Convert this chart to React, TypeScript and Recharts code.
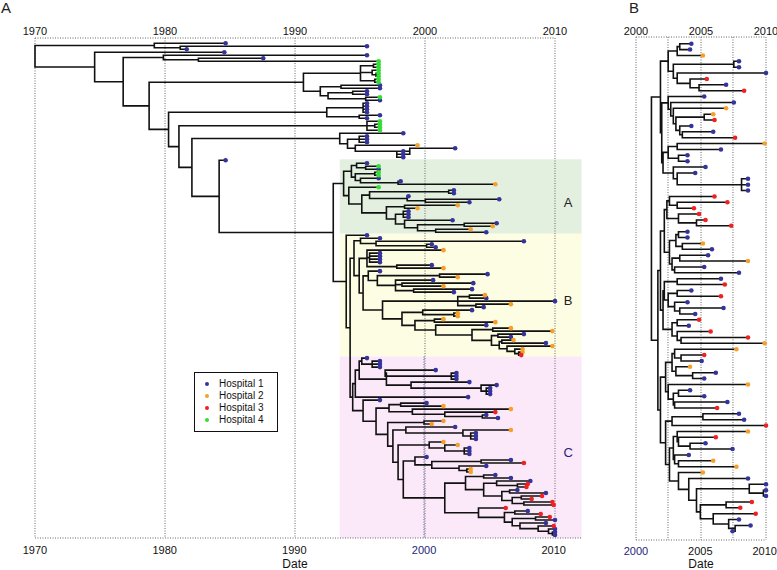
import React from 'react';
import {
  ComposedChart,
  Line,
  Scatter,
  XAxis,
  YAxis,
  ReferenceLine,
  ReferenceArea,
  Label,
} from 'recharts';

const HOSPITALS = ['Hospital 1', 'Hospital 2', 'Hospital 3', 'Hospital 4'];
const HOSPITAL_COLORS = ['#34349a', '#f6a02c', '#ee2222', '#33dd33'];

const TICKS_A = [1970, 1980, 1990, 2000, 2010];
const TICKS_B = [2000, 2005, 2010];
const GRID_B = [2000, 2002.46, 2005, 2007.46, 2010];

// tree notation: tip = "hospital:year", node = "(child,child,...)year"

// panel A - basal part
const TOP_C1 = '(1:1984.7,(1:1995.6,1:1981.7)1981.2)1979.2';
const TOP_GREENS = '((4:1996.5,4:1996.5)1996.1,(4:1996.5,(4:1996.5,4:1996.5)1996.3)1996.0,(4:1996.5,4:1996.5)1996.2)1995.1';
const TOP_BLUES1 = '((1:1996.6,1:1996.6)1993.6,((1:1995.6,1:1995.6)1994.5,(4:1996.6,1:1996.6)1995.5)1992.6)1992.0';
const TOP_BLUES2 = '((1:1995.6,1:1995.6,1:1995.6,1:1995.6)1995.3,(1:1996.6,1:1995.6)1995.0)1992.5';
const TOP_GREENS2 = '(4:1996.6,(4:1996.6,4:1996.6)1996.2,4:1996.6)1995.6';
const TOP_H = '(1:1998.4,((1:1995.6,1:1995.6,1:1995.6)1995.0,(2:1999.5,(1:2002.4,(1:1998.4,1:1998.4,1:1998.4)1997.9)1998.9)1994.7)1994.1)1993.5';

// clade A
const A_TOP = '((1:1995.6,(4:1996.5,1:1996.5)1995.5)1994.8,((4:1996.5,4:1996.5)1996.2,(1:1996.5,(1:1998.2,2:2005.5)1998.0)1995.1)1994.7)1994.4';
const A_LOW = '(4:1996.5,(((1:2002.3,1:2002.3)2001.9,(1:1998.8,(1:2005.8,1:2003.5)2000.1)1998.7)1995.8,((2:2002.6,2:1999.5)1998.5,((1:1998.8,1:1998.8,1:1998.8)1998.4,(1:2002.2,((1:2005.6,2:2005.3)2003.1,(2:2003.6,1:2004.8)2000.9)1999.5)1998.5)1997.8)1997.1)1995.2)1994.2';
const CLADE_A = `(${A_TOP},${A_LOW})1993.8`;

// clade B
const B_TOP = '(1:1996.6,(1:2007.7,(1:2000.6,1:2000.9)2000.2)1996.3)1995.1';
const B_SUB1 = '(2:2001.5,(1:1996.6,1:1996.6,1:1996.6,1:1996.6)1995.8,(1:2000.6,2:2001.5)1997.9)1995.6';
const B_SUB2 = '(1:1996.6,((1:2004.9,2:2002.6)2001.2,(1:2000.7,(1:2003.8,2:2001.5)1998.3,(1:2003.7,1:2002.3)1999.2)1997.8)1996.4)1995.7';
const B_LOWER = '((2:2001.5,2:2005.5)2000.8,(1:2004.8,((2:2006.7,2:2009.9)2005.3,((1:2007.7,1:2006.7)2005.7,((2:2006.9,1:2009.4)2006.0,(2:2009.9,(2:2007.6,(2:2007.6,3:2007.5)2007.3)2007.0)2006.4)2005.8)2005.2)2003.7)2000.9)1999.3';
const B_SUB3 = `(((2:2004.7,1:2004.8)2003.5,1:2010.1,(2:2006.7,1:2004.6)2004.0)2002.6,((1:2003.7,(2:2002.6,2:2002.6)2002.3)1999.9,${B_LOWER})1998.3)1996.8`;
const CLADE_B_MAIN = `(${B_TOP},(${B_SUB1},(${B_SUB2},${B_SUB3})1995.3)1995.0)1994.6`;

// clade C
const C_TOP = '(((1:1995.6,(1:1996.6,1:1996.6,1:1996.6)1996.0)1995.2,((1:2000.9,(1:2002.5,1:2002.5,1:2002.5)2002.1)1997.0,(1:2003.5,(1:2005.6,(1:2005.1,1:2005.1,1:2005.1)2004.8)2004.4)1999.0)1997.1)1995.0,1:2003.4)1994.7';
const C_DEEP = '(((1:2005.5,1:2006.7)2004.6,((1:2008.2,(3:2008.0,3:2007.9)2007.2)2005.6,((1:2007.2,1:2009.4)2006.6,((3:2009.1,3:2008.3)2007.5,(3:2009.9,3:2010.0)2007.7)2006.8)2006.0)2004.6)2003.2,(3:2006.3,((1:2008.0,3:2009.0)2007.0,((3:2009.7,1:2010.1)2008.6,(1:2009.4,(3:2010.0,(1:2010.1,(1:2010.1,1:2010.1)2009.9)2009.6)2008.8)2007.4)2006.8)2006.2)2004.2)2001.6';
const C_LOW = `(1:1996.6,(((1:2000.2,2:2001.5)1998.2,(2:2006.7,(3:2005.5,(1:2004.8,1:2005.7)2004.5)2001.6)1999.1)1997.3,((2:2001.5,2:2000.6)2000.0,((1:2002.4,(2:2006.7,(1:2004.0,1:2004.0,1:2004.0)2003.6)2003.0)1998.6,((2:2001.5,(2:2002.6,(1:2003.5,1:2003.5,1:2003.5)2003.1)2001.6)2000.4,((1:2000.2,((1:2006.7,3:2007.7)2004.4,(1:2004.8,(2:2003.6,2:2003.6)2003.3)2002.7)2000.6)1999.3,${C_DEEP})1998.4)1998.0)1997.6)1997.2)1996.3)1995.3`;
const CLADE_C = `(${C_TOP},${C_LOW})1994.5`;

const TREE_A = `(${TOP_C1},(1:1984.6,((1:1995.6,(1:1987.6,4:1996.5)1982.6)1979.9,((${TOP_GREENS},${TOP_BLUES1})1990.7,(${TOP_BLUES2},(${TOP_GREENS2},(${TOP_H},(1:1984.7,(${CLADE_A},(1:1995.6,(${CLADE_B_MAIN},${CLADE_C})1994.3)1994.0)1993.0)1984.2)1982.1)1981.1)1980.3)1978.8)1976.8)1974.6)1970.0`;

// panel B
const PB1 = '(((1:2004.3,1:2004.2)2003.4,2:2005.2)2003.2,((1:2008.0,1:2008.0)2007.6,(1:2010.1,(3:2005.5,(1:2007.0,3:2008.4)2004.9)2004.2)2003.2)2002.9)2002.5';
const PB2 = '(1:2005.3,(1:2007.6,(2:2007.0,((2:2006.0,3:2006.1)2005.3,(1:2004.3,(1:2006.0,3:2007.7)2003.6)2003.4)2003.1)2002.9)2002.7)2002.5';
const PB3 = '(((2:2010.0,1:2006.6)2003.2,(1:2004.0,1:2004.0)2003.3)2002.5,(1:2005.4,(1:2004.6,(1:2008.7,1:2008.7,1:2008.7)2008.2)2003.2)2002.9)2002.1';
const PB4 = '(((3:2006.1,(3:2007.1,3:2004.5)2003.2)2002.6,(3:2004.9,(3:2005.4,3:2007.4)2004.7)2003.3)2002.4,(((1:2004.0,1:2004.0)2003.3,(2:2005.2,1:2005.9)2003.6)2003.1,((1:2005.6,2:2008.7)2003.4,(1:2005.3,1:2008.0)2003.0)2002.8)2002.6)2002.2';
const PB5 = '(((1:2006.6,3:2006.9)2003.2,((1:2004.3,3:2006.6)2003.2,(1:2004.0,(1:2006.8,1:2004.6)2003.4)2003.0)2002.5)2002.2,((3:2004.9,1:2004.1)2003.2,(3:2005.8,(3:2008.7,2:2010.0)2003.5)2003.2)2002.8)2002.1';
const PB6 = '(((2:2007.8,(3:2005.3,1:2005.1)2003.5)2003.0,(2:2004.2,(1:2006.2,1:2005.3)2004.4)2003.1)2002.8,(2:2008.7,((1:2004.2,1:2005.3)2003.3,(1:2007.1,3:2006.3)2003.0)2002.9)2002.5)2002.3';
const PB7 = '(((1:2008.0,1:2008.4)2005.2,3:2010.1)2002.8,(((2:2008.7,(3:2006.2,(1:2005.4,1:2007.5)2004.2)2003.3)2003.2,(1:2004.1,(2:2006.0,2:2007.8)2003.3)2003.0)2002.9,(2:2005.2,(1:2008.7,((1:2010.1,(1:2010.1,1:2010.1)2009.9)2008.8,((3:2009.0,3:2008.1)2007.0,(3:2009.3,(1:2008.0,(1:2008.9,1:2007.5)2007.7)2007.2)2006.0)2005.0)2004.7)2004.1)2003.3)2002.6)2002.3';
const TREE_B = `((${PB1},(${PB2},${PB3})2002.0)2001.9,((${PB4},${PB5})2001.9,(${PB6},${PB7})2001.9)2001.7)2001.2`;

const FONT = '"Liberation Sans", Arial, Helvetica, sans-serif';
const GRID = '#666';

type TreeNode = { t: number; h?: number; kids?: TreeNode[]; y?: number };

function parseTree(src: string): TreeNode {
  const s = src.replace(/\s/g, '');
  let i = 0;
  const num = () => {
    const m = /^[0-9.]+/.exec(s.slice(i))!;
    i += m[0].length;
    return parseFloat(m[0]);
  };
  const node = (): TreeNode => {
    if (s[i] === '(') {
      i++;
      const kids = [node()];
      while (s[i] === ',') {
        i++;
        kids.push(node());
      }
      i++;
      return { t: num(), kids };
    }
    const h = num();
    i++;
    return { h, t: num() };
  };
  return node();
}

const countTips = (s: string) => (s.match(/[1-4]:/g) || []).length;

// ape-style phylogram: tips evenly spaced, node at midpoint of first/last child
function layoutTree(root: TreeNode) {
  const tips: { x: number; y: number; h: number }[] = [];
  const path: { x: number | null; y: number | null }[] = [];
  let n = 0;
  const walk = (nd: TreeNode) => {
    if (!nd.kids) {
      nd.y = n++;
      tips.push({ x: nd.t, y: nd.y, h: nd.h! });
      return;
    }
    nd.kids.forEach(walk);
    const first = nd.kids[0];
    const last = nd.kids[nd.kids.length - 1];
    nd.y = (first.y! + last.y!) / 2;
    path.push(
      { x: first.t, y: first.y! },
      { x: nd.t, y: first.y! },
      { x: nd.t, y: last.y! },
      { x: last.t, y: last.y! },
      { x: null, y: null },
    );
    nd.kids.slice(1, -1).forEach((k) => {
      path.push({ x: nd.t, y: k.y! }, { x: k.t, y: k.y! }, { x: null, y: null });
    });
  };
  walk(root);
  return { tips, path, count: n };
}

const layA = layoutTree(parseTree(TREE_A));
const layB = layoutTree(parseTree(TREE_B));

const nC = countTips(CLADE_C);
const nB = countTips(CLADE_B_MAIN) + 1;
const nA = countTips(CLADE_A);
const cStart = layA.count - nC;
const bStart = cStart - nB;
const aStart = bStart - nA;

const S_A = (535 - 43.3) / (layA.count - 1);
const domA: [number, number] = [-(43.3 - 38) / S_A, layA.count - 1 + 3 / S_A];
const S_B = (531.3 - 43.7) / (layB.count - 1);
const domB: [number, number] = [-(43.7 - 37) / S_B, layB.count - 1 + 8.7 / S_B];

const topTick = (p: any) => (
  <text x={p.x} y={p.y} textAnchor="middle" fontSize={11} fill="#111" fontFamily={FONT}>
    {p.payload.value}
  </text>
);

const bottomTick = (p: any) => (
  <text
    x={p.x}
    y={p.y}
    dy="0.72em"
    textAnchor="middle"
    fontSize={11}
    fill={p.payload.value === 2000 ? '#25257c' : '#111'}
    fontFamily={FONT}
  >
    {p.payload.value}
  </text>
);

const RegionLabel = ({ viewBox, text, color }: any) => (
  <text
    x={viewBox.x + viewBox.width - 13.5}
    y={viewBox.y + viewBox.height / 2 + 10}
    textAnchor="middle"
    fontSize={13}
    fill={color}
    fontFamily={FONT}
  >
    {text}
  </text>
);

const tipDot = (color: string) => (p: any) => <circle cx={p.cx} cy={p.cy} r={2.3} fill={color} />;

function renderTips(tips: { x: number; y: number; h: number }[]) {
  return HOSPITALS.map((name, i) => (
    <Scatter
      key={name}
      name={name}
      data={tips.filter((t) => t.h === i + 1)}
      fill={HOSPITAL_COLORS[i]}
      shape={tipDot(HOSPITAL_COLORS[i])}
      isAnimationActive={false}
    />
  ));
}

function PanelA() {
  return (
    <ComposedChart width={600} height={570} margin={{ top: 8, right: 45, bottom: 0, left: 35 }}>
      <XAxis
        xAxisId="top"
        orientation="top"
        type="number"
        dataKey="x"
        domain={[1970, 2010]}
        ticks={TICKS_A}
        interval={0}
        height={30}
        axisLine={false}
        tickLine={false}
        tickSize={0}
        tickMargin={3}
        tick={topTick}
      />
      <XAxis
        type="number"
        dataKey="x"
        domain={[1970, 2010]}
        ticks={TICKS_A}
        interval={0}
        height={32}
        axisLine={false}
        tickLine={false}
        tickSize={0}
        tickMargin={8}
        tick={bottomTick}
      >
        <Label value="Date" position="insideBottom" offset={2} style={{ fontSize: 12, fill: '#111', fontFamily: FONT }} />
      </XAxis>
      <YAxis type="number" dataKey="y" domain={domA} reversed hide />

      {/* outbreak clades */}
      <ReferenceArea
        x1={1993.5}
        x2={2012.15}
        y1={aStart - 1.3}
        y2={bStart - 0.5}
        fill="#e3f0e0"
        fillOpacity={1}
        stroke="none"
        ifOverflow="visible"
        label={<RegionLabel text="A" color="#222" />}
      />
      <ReferenceArea
        x1={1993.5}
        x2={2012.15}
        y1={bStart - 0.5}
        y2={cStart - 0.5}
        fill="#fdfde3"
        fillOpacity={1}
        stroke="none"
        ifOverflow="visible"
        label={<RegionLabel text="B" color="#222" />}
      />
      <ReferenceArea
        x1={1993.5}
        x2={2012.15}
        y1={cStart - 0.5}
        y2={domA[1]}
        fill="#fbe8f9"
        fillOpacity={1}
        stroke="none"
        ifOverflow="visible"
        label={<RegionLabel text="C" color="#25257c" />}
      />

      {/* year gridlines, tied to the top axis so it gets a domain */}
      {TICKS_A.map((yr) => (
        <ReferenceLine
          key={yr}
          xAxisId="top"
          x={yr}
          stroke={GRID}
          strokeDasharray="1 1.5"
          strokeWidth={1}
          ifOverflow="extendDomain"
        />
      ))}
      <ReferenceLine
        segment={[{ x: 2000, y: cStart - 0.5 }, { x: 2000, y: domA[1] }]}
        stroke="#4a4aa0"
        strokeDasharray="1 1.5"
        ifOverflow="visible"
      />
      <ReferenceLine y={domA[0]} stroke={GRID} strokeDasharray="1 1.5" />
      <ReferenceLine
        segment={[{ x: 1970, y: domA[1] }, { x: 2012.15, y: domA[1] }]}
        stroke={GRID}
        strokeDasharray="1 1.5"
        ifOverflow="visible"
      />

      <Line
        data={layA.path}
        dataKey="y"
        type="linear"
        stroke="#111"
        strokeWidth={1.6}
        dot={false}
        activeDot={false}
        connectNulls={false}
        isAnimationActive={false}
      />
      {renderTips(layA.tips)}
    </ComposedChart>
  );
}

function PanelB() {
  return (
    <ComposedChart width={177} height={570} margin={{ top: 8, right: 11, bottom: 0, left: 36 }}>
      <XAxis
        xAxisId="top"
        orientation="top"
        type="number"
        dataKey="x"
        domain={[2000, 2010]}
        ticks={TICKS_B}
        interval={0}
        height={29}
        axisLine={false}
        tickLine={false}
        tickSize={0}
        tickMargin={2}
        tick={topTick}
      />
      <XAxis
        type="number"
        dataKey="x"
        domain={[2000, 2010]}
        ticks={TICKS_B}
        interval={0}
        height={30}
        axisLine={false}
        tickLine={false}
        tickSize={0}
        tickMargin={7}
        tick={bottomTick}
      >
        <Label value="Date" position="insideBottom" offset={2} style={{ fontSize: 12, fill: '#111', fontFamily: FONT }} />
      </XAxis>
      <YAxis type="number" dataKey="y" domain={domB} reversed hide />

      {GRID_B.map((yr) => (
        <ReferenceLine
          key={yr}
          xAxisId="top"
          x={yr}
          stroke={GRID}
          strokeDasharray="1 1.5"
          strokeWidth={1}
          ifOverflow="extendDomain"
        />
      ))}
      <ReferenceLine y={domB[0]} stroke={GRID} strokeDasharray="1 1.5" />
      <ReferenceLine y={domB[1]} stroke={GRID} strokeDasharray="1 1.5" />

      <Line
        data={layB.path}
        dataKey="y"
        type="linear"
        stroke="#111"
        strokeWidth={1.6}
        dot={false}
        activeDot={false}
        connectNulls={false}
        isAnimationActive={false}
      />
      {renderTips(layB.tips)}
    </ComposedChart>
  );
}

function HospitalLegend() {
  return (
    <div
      style={{
        position: 'absolute',
        left: 194,
        top: 372,
        width: 82,
        height: 58,
        border: '1px solid #111',
        background: '#fff',
        fontFamily: FONT,
        fontSize: 10,
        color: '#111',
      }}
    >
      {HOSPITALS.map((name, i) => (
        <div
          key={name}
          style={{ position: 'absolute', left: 8, top: 5 + i * 12, height: 12, lineHeight: '12px', whiteSpace: 'nowrap' }}
        >
          <svg width={8} height={12} style={{ verticalAlign: 'top' }}>
            <circle cx={4} cy={6} r={2} fill={HOSPITAL_COLORS[i]} />
          </svg>
          <span style={{ marginLeft: 8 }}>{name}</span>
        </div>
      ))}
    </div>
  );
}

export default function App() {
  return (
    <div
      style={{
        position: 'absolute',
        left: 0,
        top: 0,
        width: 777,
        height: 570,
        background: '#fff',
        fontFamily: FONT,
        overflow: 'hidden',
      }}
    >
      <div style={{ position: 'absolute', left: 0, top: 0 }}>
        <PanelA />
      </div>
      <div style={{ position: 'absolute', left: 600, top: 0 }}>
        <PanelB />
      </div>
      <HospitalLegend />
      <div style={{ position: 'absolute', left: 1, top: -1, fontSize: 15, color: '#222' }}>A</div>
      <div style={{ position: 'absolute', left: 629, top: -1, fontSize: 15, color: '#222' }}>B</div>
    </div>
  );
}
